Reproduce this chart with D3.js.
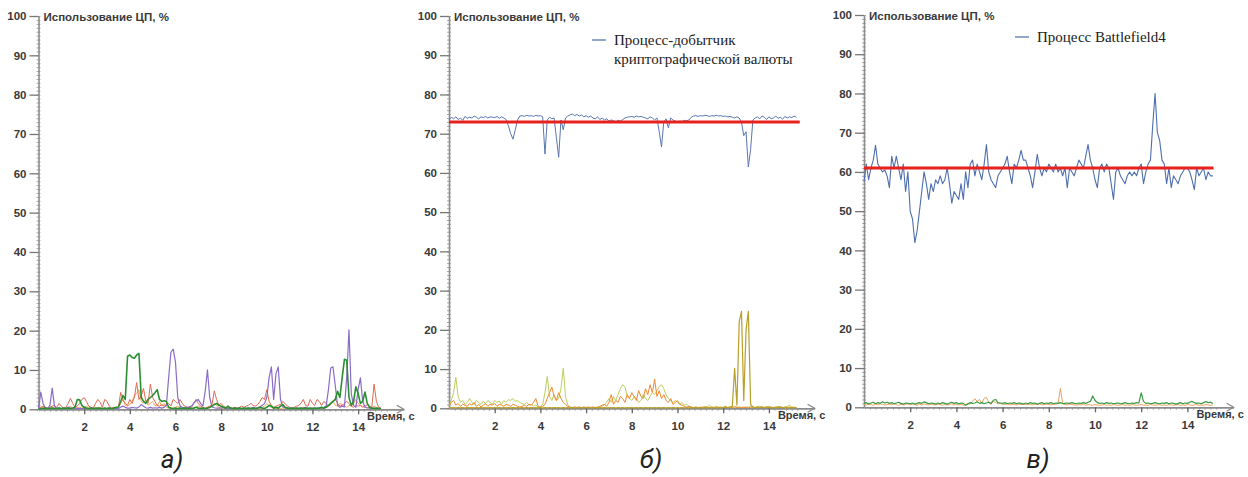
<!DOCTYPE html>
<html>
<head>
<meta charset="utf-8">
<script src="https://cdn.jsdelivr.net/npm/d3@7"></script>
<style>
  body { margin: 0; background: #fff; }
  svg { display: block; }
</style>
</head>
<body>
<div id="chart"></div>
<script>
// --- data: CPU usage, % sampled every 0.1 s ---
const step = 0.1;
const timeTicks = [2, 4, 6, 8, 10, 12, 14];
const cpuTicks = [0, 10, 20, 30, 40, 50, 60, 70, 80, 90, 100];
const yTitle = "Использование ЦП, %";
const xTitle = "Время, с";
const panelLabels = ["а)", "б)", "в)"];
const legendB = ["Процесс-добытчик", "криптографической валюты"];
const legendC = ["Процесс Battlefield4"];

// panel а) — ordinary processes
const aRed = [
  0.3,0.5,0.8,0.5,0.3,0.5,0.8,1.0,0.5,1.5,
  0.8,0.3,0.5,1.5,2.8,1.5,0.5,0.8,1.5,2.5,
  3.0,2.0,0.8,0.5,0.3,1.5,2.5,1.8,0.5,2.5,
  2.0,0.8,0.3,0.5,0.3,0.5,4.3,2.5,1.5,1.0,
  2.5,1.5,3.0,6.8,2.5,3.5,5.3,2.0,1.5,6.4,
  3.0,2.0,1.0,0.8,1.2,0.8,1.0,1.5,0.8,2.5,
  2.0,1.5,2.5,1.5,0.8,0.5,0.3,0.5,1.5,2.5,
  1.5,0.8,0.5,0.3,0.5,0.8,1.2,4.7,2.5,1.0,
  1.5,0.8,0.5,0.3,0.5,0.3,0.5,0.3,0.5,0.8,
  0.5,0.8,1.0,1.5,1.0,0.8,1.2,2.0,3.0,2.5,
  5.0,2.0,1.0,0.5,0.8,1.0,1.2,2.0,1.5,0.8,
  0.5,0.3,0.5,0.8,1.0,1.5,2.5,1.0,0.8,2.5,
  1.5,1.0,2.5,2.0,1.0,2.0,1.5,0.8,1.2,2.0,
  2.5,1.5,0.8,1.0,1.5,2.0,1.5,0.8,0.5,1.0,
  0.8,1.0,0.5,0.8,1.2,0.8,0.5,6.4,2.0,0.5,
  0.3
];
const aOrange = [
  0.2,0.3,0.5,0.3,0.2,0.3,0.5,0.3,0.2,0.3,
  0.2,0.3,0.2,0.5,0.8,0.3,0.2,0.3,0.5,0.3,
  0.5,0.8,0.3,0.2,0.3,0.2,0.5,0.3,0.2,0.3,
  0.2,0.3,0.2,0.3,0.2,0.5,1.5,2.5,1.0,0.8,
  1.2,2.0,3.5,4.0,5.0,2.0,1.5,2.5,1.0,1.5,
  2.0,1.0,0.8,2.0,0.8,1.5,0.5,0.3,0.2,0.3,
  0.5,0.8,0.3,0.2,0.3,0.2,0.3,0.2,0.3,0.5,
  0.8,0.5,0.3,0.2,0.5,0.3,0.8,1.5,1.0,0.5,
  0.3,0.2,0.3,0.2,0.3,0.2,0.3,0.2,0.3,0.2,
  0.3,0.2,0.3,0.2,0.3,0.2,0.3,0.2,0.5,0.8,
  1.5,0.8,0.5,0.3,0.2,0.3,0.2,0.3,0.2,0.3,
  0.2,0.3,0.2,0.3,0.2,0.3,0.5,0.3,0.2,0.3,
  0.2,0.3,0.2,0.3,0.2,0.3,0.5,0.8,1.5,2.0,
  1.0,0.8,1.5,1.2,0.8,0.5,1.0,0.8,1.5,2.5,
  1.5,1.0,0.8,0.5,0.3,0.5,0.3,0.8,0.5,0.3,
  0.2
];
const aPurple = [
  0,4.4,1.5,0.3,0.2,1.0,5.4,0.8,0.2,0.3,
  0.2,0.3,0.2,0.5,0.3,0.2,0.2,0.3,0.2,0.2,
  0.3,0.2,0.2,0.3,0.2,0.2,0.3,0.2,0.2,0.2,
  0.2,0.3,0.2,0.2,0.3,0.2,0.5,0.8,0.5,0.3,
  0.3,0.5,0.4,0.3,0.6,1.2,0.8,0.4,0.3,0.5,
  0.3,0.4,0.3,0.5,0.3,0.5,1.0,8.0,14.5,15.3,
  12.0,3.0,0.8,0.5,0.4,0.5,0.6,0.8,1.5,2.2,
  2.5,1.5,0.8,4.5,10.0,3.0,0.6,0.4,0.3,0.3,
  0.3,0.5,0.3,0.2,0.3,0.2,0.3,0.2,0.3,0.2,
  0.2,0.3,0.2,0.3,0.5,0.3,0.4,0.6,1.0,1.5,
  3.0,8.0,10.8,2.5,9.0,10.8,2.5,0.6,0.4,0.3,
  0.3,0.2,0.3,0.2,0.3,0.2,0.3,0.5,0.3,0.2,
  0.3,0.2,0.3,0.4,0.3,0.5,0.8,5.0,10.5,10.8,
  6.0,1.0,0.5,0.8,0.6,8.0,20.2,4.0,1.0,0.5,
  5.0,8.0,2.0,0.6,0.4,0.3,0.2,0.3,0.2,0.2,
  0.2
];
const aGreen = [
  0,0.2,0.2,0.3,0.2,0.2,0.3,0.2,0.2,0.3,
  0.2,0.3,0.2,0.3,0.2,0.3,0.6,2.5,2.4,1.0,
  0.5,0.3,0.2,0.3,0.2,0.3,0.2,0.3,0.2,0.3,
  0.2,0.3,0.2,0.3,0.5,0.6,2.0,3.5,2.5,13.5,
  13.8,13.2,13.0,13.8,14.2,3.0,2.0,1.5,2.5,3.0,
  3.5,4.2,5.0,2.5,2.0,2.2,2.0,0.5,0.3,0.2,
  0.3,0.2,0.3,0.2,0.3,0.2,0.3,0.2,0.3,0.5,
  0.3,0.2,0.3,0.2,0.3,0.5,0.8,1.2,1.5,1.0,
  0.8,0.5,0.3,0.8,0.3,0.2,0.3,0.2,0.3,0.2,
  0.3,0.2,0.3,0.2,0.3,0.2,0.3,0.5,0.3,0.2,
  0.5,1.0,0.8,0.3,0.5,0.3,0.8,1.2,0.5,0.3,
  0.2,0.3,0.2,0.3,0.2,0.3,0.2,0.3,0.2,0.3,
  0.2,0.3,0.2,0.3,0.5,0.3,0.5,1.0,1.5,2.0,
  2.5,4.6,3.0,8.0,12.7,12.5,3.0,1.0,2.0,5.7,
  4.0,1.5,2.0,4.4,1.5,0.5,0.3,0.2,0.3,0.2,
  0.2
];

// panel б) — crypto-miner process
const bMiner = [
  73.5,74.2,73.8,74.3,73.6,74.0,73.4,74.4,73.9,74.2,
  74.0,74.5,74.2,73.8,74.3,74.1,74.4,74.0,74.3,74.2,
  74.1,74.4,73.9,74.3,74.0,73.6,72.0,70.0,68.6,71.0,
  73.5,74.5,74.6,74.4,74.7,74.5,74.6,74.4,74.7,74.5,
  74.6,74.3,64.8,73.5,74.2,73.8,74.0,69.0,64.0,73.5,
  71.0,74.0,74.5,74.8,75.0,74.6,74.9,74.5,74.8,74.3,
  74.6,74.2,74.5,74.0,73.8,74.3,73.6,74.0,73.5,73.8,
  73.2,73.5,73.3,73.0,73.4,73.2,73.6,74.0,74.2,74.3,
  74.4,74.2,74.5,74.3,74.4,74.2,74.0,73.8,74.3,74.0,
  73.5,74.0,70.5,66.6,73.0,73.8,71.5,74.0,73.5,73.2,
  73.0,73.2,73.1,73.4,73.3,73.5,74.2,74.5,74.6,74.4,
  74.6,74.5,74.7,74.6,74.4,74.6,74.5,74.7,74.5,74.6,
  74.4,74.5,74.3,74.4,74.2,74.0,74.3,74.0,73.0,69.5,
  70.5,61.5,66.0,73.5,74.0,74.3,73.8,74.5,74.2,73.6,
  74.3,73.8,74.0,74.5,73.9,74.2,73.7,74.4,74.0,74.3,
  74.1,74.5,74.2
];
const bMinerMean = 73;
const bOther1 = [
  0.5,2.0,4.0,7.9,3.0,1.5,2.0,1.0,1.5,2.5,
  1.5,1.0,2.0,1.5,1.0,1.8,1.2,2.0,1.5,1.0,
  2.0,1.5,1.8,1.0,2.0,1.5,2.2,2.0,2.5,1.8,
  2.0,1.5,1.2,1.0,1.5,0.8,1.0,0.5,0.8,0.3,
  0.5,1.0,4.0,8.1,3.0,2.0,3.5,2.0,2.5,5.0,
  10.2,3.0,0.8,0.3,0.2,0.3,0.2,0.3,0.2,0.3,
  0.2,0.3,0.2,0.3,0.2,0.3,0.2,0.5,0.8,1.5,
  2.5,1.5,3.0,2.0,3.5,5.0,6.0,5.5,3.0,2.5,
  2.0,3.0,2.5,1.5,2.0,3.5,2.5,2.0,3.0,4.0,
  3.5,4.5,5.5,6.0,5.0,3.5,2.5,2.0,1.5,2.0,
  1.5,1.0,1.5,0.8,1.0,0.5,0.3,0.2,0.3,0.2,
  0.3,0.2,0.5,0.3,0.8,0.3,0.2,0.5,0.3,0.2,
  0.3,0.5,0.2,0.3,0.2,0.5,0.3,0.2,0.3,0.2,
  0.3,0.2,0.5,0.3,0.2,0.3,0.5,0.3,0.2,0.3,
  0.5,0.3,0.2,0.3,0.5,0.3,0.2,0.3,0.5,0.8,
  0.3,0.2,0.2
];
const bOther2 = [
  0.5,1.5,2.0,0.8,1.2,0.5,1.0,0.8,0.5,1.2,
  0.8,1.5,0.5,1.0,0.3,0.8,1.2,0.5,1.0,0.8,
  1.2,0.5,1.0,0.8,0.5,1.0,0.8,0.5,1.0,0.8,
  0.5,0.3,0.5,0.8,0.5,1.0,0.8,1.5,2.5,0.5,
  0.3,0.5,1.0,2.5,4.0,5.4,3.0,2.0,4.0,2.5,
  1.5,1.0,0.5,0.3,0.2,0.3,0.2,0.3,0.2,0.3,
  0.2,0.3,0.2,0.3,0.2,0.3,0.5,0.8,1.0,0.5,
  1.5,3.5,1.0,2.0,1.5,3.0,2.5,1.5,3.5,2.5,
  4.0,3.0,2.0,4.5,3.0,2.5,5.0,3.5,6.0,4.0,
  7.4,3.0,4.5,2.5,3.5,2.0,1.5,2.5,1.0,1.5,
  2.0,1.0,0.8,0.5,0.3,0.5,0.3,0.2,0.3,0.2,
  0.2,0.3,0.2,0.3,0.2,0.3,0.2,0.3,0.2,0.3,
  0.2,0.3,0.2,0.3,0.2,0.3,0.2,0.3,0.2,0.3,
  0.2,0.3,0.2,0.3,0.2,0.3,0.2,0.3,0.2,0.3,
  0.2,0.3,0.2,0.3,0.2,0.3,0.2,0.3,0.2,0.3,
  0.2,0.3,0.2
];
const bOther3 = [
  0.2,0.1,0.2,0.1,0.2,0.1,0.2,0.1,0.2,0.1,
  0.2,0.1,0.2,0.1,0.2,0.1,0.2,0.1,0.2,0.1,
  0.2,0.1,0.2,0.1,0.2,0.1,0.2,0.1,0.2,0.1,
  0.2,0.1,0.2,0.1,0.2,0.1,0.2,0.1,0.2,0.1,
  0.2,0.1,0.2,0.1,0.2,0.1,0.2,0.1,0.2,0.1,
  0.2,0.1,0.2,0.1,0.2,0.1,0.2,0.1,0.2,0.1,
  0.2,0.1,0.2,0.1,0.2,0.1,0.2,0.1,0.2,0.1,
  0.2,0.1,0.2,0.1,0.2,0.1,0.2,0.1,0.2,0.1,
  0.2,0.1,0.2,0.1,0.2,0.1,0.2,0.1,0.2,0.1,
  0.2,0.1,0.2,0.1,0.2,0.1,0.2,0.1,0.2,0.1,
  0.2,0.1,0.2,0.1,0.2,0.1,0.2,0.1,0.2,0.1,
  0.2,0.1,0.2,0.1,0.2,0.1,0.2,0.1,0.2,0.1,
  0.2,0.3,0.2,0.3,0.5,10.2,0.8,22.0,24.7,2.0,
  20.0,24.7,1.0,0.3,0.2,0.3,0.2,0.3,0.2,0.3,
  0.2,0.1,0.2,0.1,0.2,0.3,0.2,0.1,0.2,0.1,
  0.2,0.1,0.2
];

// panel в) — Battlefield 4
const cGame = [
  57.5,62,58,61,63,66.8,62,61,60,60.5,
  59,56,64,61,64,61,58,62,55,60,
  50,48,42,45,50,55,60,57,53,57,
  55,58,57,59,57,58,61,57,52,55,
  54,53,57,53,60,56,62,63,59,62,
  60,58,62,67,60,58,57,56,59,60,
  61,62,64,60,57,62,61,63,65.5,63,
  63,61,59,56,60,64.5,61,59,61,60,
  62,61,60,62,60,61,59,61,56,61,
  60,59,61,63,62,61,64,67,63,61,
  58,56,61,62,60,62,61,57,53,60,
  61,59,58,57,59,60,59,60,59,61,
  62,57,60,62,63,72,80,70,68,63,
  62,57,61,56,59,58,57,59,60,61,
  61,60,58,55.5,61,59,60,61,58,60,
  59,59
];
const cGameMean = 61;
const cOther1 = [
  1.0,1.2,0.8,1.1,1.3,0.9,1.2,1.0,1.4,1.1,
  1.3,1.0,1.2,0.9,1.1,1.3,1.0,0.8,1.1,1.0,
  0.9,1.1,0.8,1.0,1.2,1.0,1.4,1.2,0.9,1.1,
  1.0,0.8,1.1,0.9,1.2,1.0,0.8,1.1,1.3,1.0,
  1.2,0.9,1.1,1.0,0.5,0.9,1.2,1.0,1.1,1.4,
  1.0,1.2,0.9,1.1,1.3,1.0,1.8,2.0,1.2,1.1,
  1.0,1.2,0.9,1.1,1.0,1.2,0.9,1.1,1.0,0.8,
  1.1,0.9,1.2,1.0,1.1,0.8,1.0,1.2,0.9,1.1,
  1.0,1.2,0.9,1.1,1.0,1.2,0.9,1.0,1.1,1.0,
  1.2,1.0,0.9,1.1,1.0,1.2,1.0,1.3,1.5,2.9,
  1.8,1.2,1.0,1.1,0.9,1.2,1.0,1.1,0.9,1.0,
  1.1,0.9,1.0,1.2,1.0,0.9,1.1,1.0,1.2,1.1,
  3.7,1.5,1.0,1.1,0.9,1.0,1.2,1.0,0.9,1.1,
  1.0,1.2,0.9,1.1,1.0,0.8,1.0,1.2,0.9,1.1,
  1.0,1.3,1.5,1.2,1.0,1.1,0.9,1.2,1.5,1.2,
  1.3,1.0
];
const cOther2 = [
  0.8,0.6,0.9,0.7,0.5,0.8,0.6,0.9,0.7,0.6,
  0.7,0.8,0.6,0.9,0.7,0.5,0.8,0.6,0.7,0.9,
  0.6,0.8,0.7,0.5,0.8,0.6,0.9,0.7,0.6,0.8,
  0.7,0.6,0.8,0.7,0.5,0.8,0.6,0.7,0.9,0.6,
  0.7,0.6,0.8,0.5,0.7,0.9,0.8,1.5,2.2,1.5,
  2.0,1.0,2.3,2.5,1.2,0.8,1.5,1.2,0.9,1.0,
  0.8,0.7,0.9,0.6,0.8,0.7,0.6,0.8,0.7,0.9,
  0.6,0.8,0.7,0.6,0.8,0.7,0.9,0.6,0.7,0.8,
  0.7,0.6,0.8,0.7,1.0,4.8,1.0,0.7,0.6,0.8,
  0.7,0.6,0.5,0.7,0.6,0.8,0.5,0.7,0.6,0.5,
  0.7,0.6,0.5,0.6,0.7,0.5,0.6,0.5,0.7,0.6,
  0.5,0.6,0.7,0.5,0.6,0.5,0.7,0.6,0.5,0.6,
  0.7,0.5,0.6,0.5,0.7,0.6,0.5,0.6,0.7,0.5,
  0.6,0.5,0.7,0.6,0.5,0.6,0.7,0.5,0.6,0.5,
  0.7,0.6,0.5,0.6,0.7,0.5,0.6,0.5,0.7,0.6,
  0.5,0.6
];

// --- layout ---
const width = 1248, height = 477;
const panels = [
  { x0: 38.5, top: 16, bottom: 409.3, pxPerSec: 22.83, labelX: 172,
    series: [
      { values: aOrange, color: "#f2a65a", w: 1 },
      { values: aRed, color: "#e26a52", w: 1 },
      { values: aPurple, color: "#8b6cc8", w: 1.2 },
      { values: aGreen, color: "#2a8f31", w: 1.6 }
    ] },
  { x0: 449, top: 16, bottom: 408.3, pxPerSec: 22.85, labelX: 651,
    series: [
      { values: bOther1, color: "#bccf5c", w: 1 },
      { values: bOther2, color: "#f08a30", w: 1 },
      { values: bOther3, color: "#b8a02a", w: 1.2 },
      { values: bMiner, color: "#5a76b2", w: 1 }
    ],
    mean: bMinerMean, meanEnd: 15.35, legend: legendB, legendX: 592, legendY: 45 },
  { x0: 864, top: 15, bottom: 407.3, pxPerSec: 23.1, labelX: 1038,
    series: [
      { values: cOther2, color: "#f0a060", w: 1 },
      { values: cOther1, color: "#3b9b45", w: 1.2 },
      { values: cGame, color: "#4e6fae", w: 1.1 }
    ],
    mean: cGameMean, meanEnd: 15.13, legend: legendC, legendX: 1015, legendY: 42 }
];

const svg = d3.select("#chart").append("svg")
  .attr("width", width)
  .attr("height", height)
  .style("font-family", "'Liberation Sans', Arial, sans-serif");

const axisColor = "#8c8c8c";
const labelFont = "'Liberation Sans', Arial, sans-serif";

panels.forEach((p, k) => {
  const x = d3.scaleLinear().domain([0, 16]).range([p.x0, p.x0 + 16 * p.pxPerSec]);
  const y = d3.scaleLinear().domain([0, 100]).range([p.bottom, p.top]);
  const g = svg.append("g");

  // minor y ticks on both sides of the axis
  [d3.axisLeft, d3.axisRight].forEach(mk => {
    g.append("g")
      .attr("transform", `translate(${p.x0},0)`)
      .call(mk(y).tickValues(d3.range(0, 101, 1)).tickSize(2).tickFormat("").tickSizeOuter(0))
      .call(a => a.select(".domain").remove())
      .call(a => a.selectAll("line").attr("stroke", "#aaa"));
  });

  // major y axis
  g.append("g")
    .attr("transform", `translate(${p.x0},0)`)
    .call(d3.axisLeft(y).tickValues(cpuTicks).tickSize(9).tickPadding(3).tickSizeOuter(0))
    .call(a => a.select(".domain").attr("stroke", axisColor).attr("stroke-width", 1.6))
    .call(a => a.selectAll(".tick line").attr("stroke", "#777").attr("stroke-width", 1.3))
    .call(a => a.selectAll("text").attr("fill", "#3a3a3a").attr("font-size", 11.5)
      .attr("font-weight", "bold").attr("font-family", labelFont));

  g.append("text")
    .attr("x", p.x0 + 5)
    .attr("y", p.top + 5)
    .attr("font-size", 11.5)
    .attr("font-weight", "bold")
    .attr("fill", "#3a3a3a")
    .text(yTitle);

  // minor x ticks
  g.append("g")
    .attr("transform", `translate(0,${p.bottom})`)
    .call(d3.axisBottom(x).tickValues(d3.range(0.25, 15.3, 0.25)).tickSize(2.5).tickFormat("").tickSizeOuter(0))
    .call(a => a.select(".domain").remove())
    .call(a => a.selectAll("line").attr("stroke", "#aaa"));

  // major x axis
  g.append("g")
    .attr("transform", `translate(0,${p.bottom})`)
    .call(d3.axisBottom(x).tickValues(timeTicks).tickSize(5).tickPadding(9).tickSizeOuter(0))
    .call(a => a.select(".domain").attr("stroke", axisColor).attr("stroke-width", 1.8))
    .call(a => a.selectAll(".tick line").attr("stroke", "#666").attr("stroke-width", 1.3))
    .call(a => a.selectAll("text").attr("fill", "#3a3a3a").attr("font-size", 11.5)
      .attr("font-weight", "bold").attr("font-family", labelFont));

  // arrow head
  const xe = x(16);
  g.append("path")
    .attr("d", `M${xe - 7},${p.bottom - 4} L${xe},${p.bottom} L${xe - 7},${p.bottom + 4}`)
    .attr("fill", "none")
    .attr("stroke", axisColor)
    .attr("stroke-width", 1.3);

  g.append("text")
    .attr("x", x(14) + 9)
    .attr("y", p.bottom + 11)
    .attr("font-size", 11)
    .attr("font-weight", "bold")
    .attr("fill", "#3a3a3a")
    .text(xTitle);

  // series
  const line = d3.line()
    .x((d, i) => x(i * step))
    .y(d => y(d));
  p.series.forEach(s => {
    g.append("path")
      .datum(s.values)
      .attr("d", line)
      .attr("fill", "none")
      .attr("stroke", s.color)
      .attr("stroke-width", s.w)
      .attr("stroke-linejoin", "round");
  });

  if (p.mean !== undefined) {
    g.append("line")
      .attr("x1", x(0))
      .attr("x2", x(p.meanEnd))
      .attr("y1", y(p.mean))
      .attr("y2", y(p.mean))
      .attr("stroke", "#e8211d")
      .attr("stroke-width", 3);
  }

  if (p.legend) {
    g.append("line")
      .attr("x1", p.legendX).attr("x2", p.legendX + 14)
      .attr("y1", p.legendY - 5).attr("y2", p.legendY - 5)
      .attr("stroke", "#5a76b2").attr("stroke-width", 1.3);
    g.selectAll(".leg")
      .data(p.legend)
      .enter().append("text")
      .attr("x", p.legendX + 22)
      .attr("y", (d, i) => p.legendY + i * 18.5)
      .attr("font-family", "'Liberation Serif', 'Times New Roman', serif")
      .attr("font-size", 15)
      .attr("fill", "#222")
      .text(d => d);
  }

  g.append("text")
    .attr("x", p.labelX)
    .attr("y", 468)
    .attr("text-anchor", "middle")
    .attr("font-family", "Roboto, 'Noto Sans', sans-serif")
    .attr("font-style", "italic")
    .attr("font-size", 26)
    .attr("fill", "#222")
    .text(panelLabels[k]);
});
</script>
</body>
</html>
